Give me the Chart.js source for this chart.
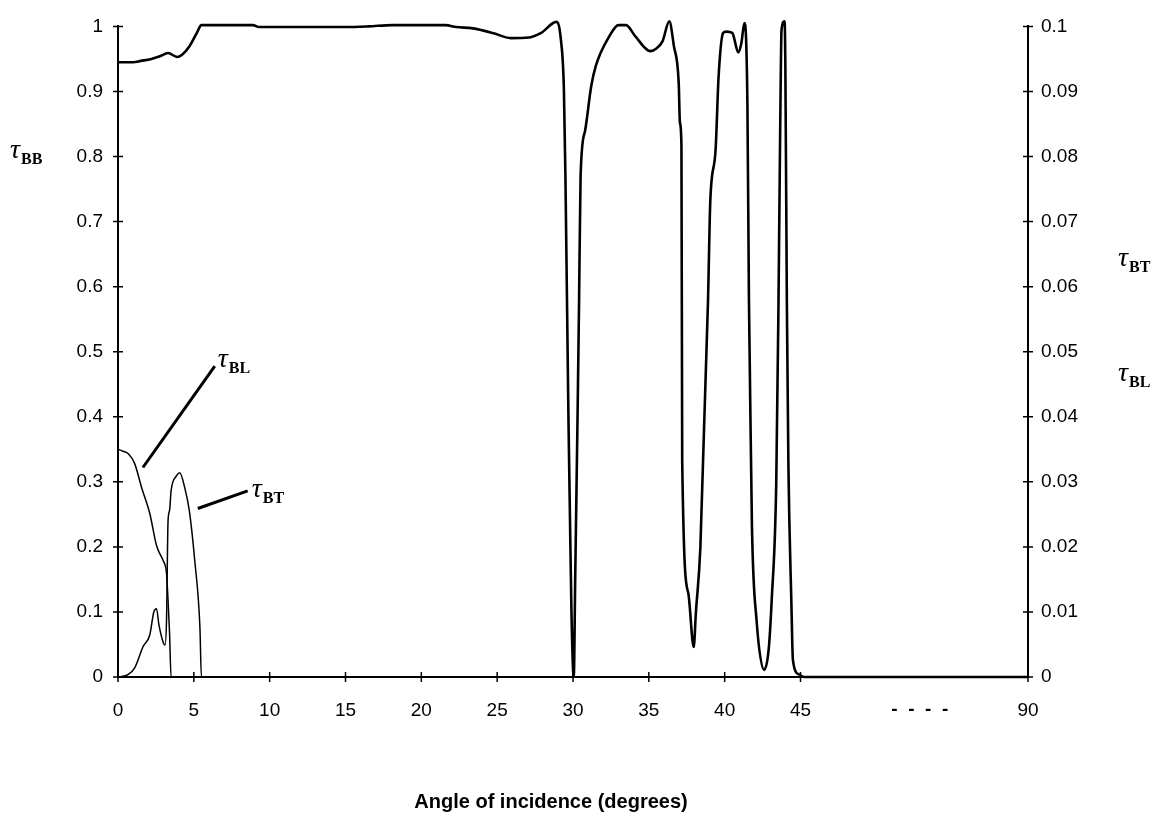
<!DOCTYPE html>
<html>
<head>
<meta charset="utf-8">
<script src="https://cdn.jsdelivr.net/npm/chart.js@4/dist/chart.umd.min.js"></script>
<style>
  body { margin: 0; background: #fff; }
  #wrap { width: 1172px; height: 816px; }
</style>
</head>
<body>
<div id="wrap"><canvas id="chart" width="1172" height="816"></canvas></div>
<script>
// tau_BB (left axis)
const bbAngle = [0, 1.0, 1.5, 2.2, 2.76, 3.3, 3.9, 4.3, 4.7, 5.2, 5.5, 8.9, 9.3, 15, 16.5, 18.1, 21.6, 22.3, 23.4, 24.7, 25.9, 27.1, 27.9, 28.9, 29.2, 29.4, 29.5, 29.7, 29.8, 29.9, 30.05, 30.15, 30.3, 30.4, 30.5, 30.8, 31.2, 31.5, 32.4, 33.0, 33.5, 34.1, 35.1, 35.5, 35.9, 36.35, 36.65, 36.97, 37.05, 37.15, 37.2, 37.6, 37.96, 38.1, 38.4, 38.9, 39.05, 39.4, 39.6, 39.9, 40.1, 40.5, 40.9, 41.1, 41.3, 41.5, 41.6, 41.65, 41.8, 42.1, 42.6, 42.9, 43.1, 43.4, 43.55, 43.66, 43.75, 43.95, 44.0, 44.1, 44.2, 44.4, 44.5, 44.9, 45.7, 90];
const bbValue = [0.945, 0.945, 0.947, 0.950, 0.954, 0.959, 0.953, 0.958, 0.969, 0.990, 1.002, 1.002, 0.999, 0.999, 1.0, 1.002, 1.002, 0.999, 0.997, 0.990, 0.982, 0.983, 0.990, 1.007, 0.98, 0.903, 0.771, 0.398, 0.245, 0.098, 0.0, 0.16, 0.40, 0.577, 0.77, 0.84, 0.908, 0.939, 0.985, 1.002, 1.002, 0.985, 0.962, 0.966, 0.977, 1.008, 0.97, 0.913, 0.852, 0.817, 0.332, 0.129, 0.046, 0.098, 0.2, 0.577, 0.73, 0.81, 0.923, 0.99, 0.992, 0.99, 0.96, 0.974, 1.005, 0.88, 0.58, 0.49, 0.23, 0.088, 0.011, 0.042, 0.118, 0.297, 0.577, 0.84, 0.995, 1.008, 0.944, 0.577, 0.33, 0.113, 0.026, 0.004, 0.0, 0.0];

// tau_BL (right axis)
const blAngle = [0, 0.33, 0.68, 1.1, 1.56, 2.1, 2.54, 2.98, 3.14, 3.2, 3.3, 3.4, 3.5, 90];
const blValue = [0.0350, 0.0347, 0.0343, 0.0328, 0.0291, 0.0251, 0.0202, 0.0179, 0.0169, 0.0159, 0.0118, 0.0067, 0, 0];

// tau_BT (right axis)
const btAngle = [0.15, 0.68, 1.1, 1.66, 2.1, 2.36, 2.54, 2.7, 3.0, 3.1, 3.2, 3.3, 3.4, 3.5, 3.85, 4.07, 4.4, 4.7, 5.06, 5.4, 5.5, 90];
const btValue = [0, 0.0004, 0.0014, 0.0047, 0.0065, 0.0100, 0.0105, 0.0080, 0.0052, 0.0049, 0.0088, 0.0240, 0.0256, 0.0286, 0.0309, 0.0314, 0.0291, 0.0256, 0.0179, 0.0077, 0, 0];

const xTickAngles = [0, 5, 10, 15, 20, 25, 30, 35, 40, 45, 90];
const xTickLabels = ['0', '5', '10', '15', '20', '25', '30', '35', '40', '45', '90'];
const leftTicks = [0, 0.1, 0.2, 0.3, 0.4, 0.5, 0.6, 0.7, 0.8, 0.9, 1];
const rightTicks = [0, 0.01, 0.02, 0.03, 0.04, 0.05, 0.06, 0.07, 0.08, 0.09, 0.1];

// the axis is broken after 45 degrees: 45..90 squeezed into a third
const toAxis = a => a <= 45 ? a : 45 + (a - 45) / 3;
const pts = (xs, ys) => xs.map((a, i) => ({ x: toAxis(a), y: ys[i] }));

const tickFont = { family: '"Liberation Sans", Arial, sans-serif', size: 19 };

function drawTau(ctx, x, y, sub) {
  ctx.font = 'italic 28px "Liberation Serif", serif';
  ctx.textAlign = 'left';
  ctx.textBaseline = 'alphabetic';
  ctx.fillText('τ', x, y);
  const w = ctx.measureText('τ').width;
  ctx.font = 'bold 16px "Liberation Serif", serif';
  ctx.fillText(sub, x + w + 1, y + 6);
}

const overlay = {
  id: 'overlay',
  afterDraw(chart) {
    const { ctx, chartArea: ca, scales } = chart;
    const { x, y, y1 } = scales;
    ctx.save();
    ctx.strokeStyle = '#000';
    ctx.fillStyle = '#000';
    ctx.lineWidth = 1.5;

    // tick marks crossing the axes
    ctx.beginPath();
    x.ticks.forEach(t => {
      const px = x.getPixelForValue(t.value);
      ctx.moveTo(px, ca.bottom - 5); ctx.lineTo(px, ca.bottom + 5);
    });
    y.ticks.forEach(t => {
      const py = y.getPixelForValue(t.value);
      ctx.moveTo(ca.left - 5, py); ctx.lineTo(ca.left + 5, py);
    });
    y1.ticks.forEach(t => {
      const py = y1.getPixelForValue(t.value);
      ctx.moveTo(ca.right - 5, py); ctx.lineTo(ca.right + 5, py);
    });
    ctx.stroke();

    // break marker on the angle axis
    ctx.font = 'bold 19px "Liberation Sans", Arial, sans-serif';
    ctx.textAlign = 'center';
    ctx.textBaseline = 'middle';
    ctx.fillText('-  -  -  -', x.getPixelForValue(toAxis(68.6)), ca.bottom + 33);

    // leader lines
    ctx.lineWidth = 3;
    ctx.beginPath();
    ctx.moveTo(x.getPixelForValue(1.64), y.getPixelForValue(0.322));
    ctx.lineTo(x.getPixelForValue(6.38), y.getPixelForValue(0.478));
    ctx.moveTo(x.getPixelForValue(5.26), y.getPixelForValue(0.259));
    ctx.lineTo(x.getPixelForValue(8.55), y.getPixelForValue(0.286));
    ctx.stroke();

    drawTau(ctx, x.getPixelForValue(6.58), y.getPixelForValue(0.476), 'BL');
    drawTau(ctx, x.getPixelForValue(8.82), y.getPixelForValue(0.276), 'BT');

    // axis names
    drawTau(ctx, 10, y.getPixelForValue(0.797), 'BB');
    drawTau(ctx, ca.right + 90, y1.getPixelForValue(0.0632), 'BT');
    drawTau(ctx, ca.right + 90, y1.getPixelForValue(0.0455), 'BL');

    ctx.font = 'bold 20px "Liberation Sans", Arial, sans-serif';
    ctx.textAlign = 'center';
    ctx.textBaseline = 'middle';
    ctx.fillText('Angle of incidence (degrees)', (ca.left + ca.right) / 2 - 22, 802);
    ctx.restore();
  }
};

const lineStyle = { borderColor: '#000', pointRadius: 0, cubicInterpolationMode: 'monotone', clip: 10 };

new Chart(document.getElementById('chart'), {
  type: 'line',
  data: {
    datasets: [
      { ...lineStyle, label: 'τBB', data: pts(bbAngle, bbValue), yAxisID: 'y', borderWidth: 2.6 },
      { ...lineStyle, label: 'τBL', data: pts(blAngle, blValue), yAxisID: 'y1', borderWidth: 1.5 },
      { ...lineStyle, label: 'τBT', data: pts(btAngle, btValue), yAxisID: 'y1', borderWidth: 1.5 }
    ]
  },
  options: {
    responsive: false,
    animation: false,
    events: [],
    layout: { padding: { top: 23, left: 0, right: 0, bottom: 0 } },
    plugins: { legend: { display: false }, tooltip: { enabled: false } },
    scales: {
      x: {
        type: 'linear',
        min: 0,
        max: toAxis(90),
        afterBuildTicks: s => { s.ticks = xTickAngles.map(a => ({ value: toAxis(a) })); },
        afterFit: s => { s.height = 139; },
        grid: { drawOnChartArea: false, drawTicks: false },
        border: { color: '#000', width: 2 },
        ticks: { color: '#000', font: tickFont, padding: 22, maxRotation: 0, autoSkip: false,
          callback: (v, i) => xTickLabels[i] }
      },
      y: {
        position: 'left',
        min: 0,
        max: 1,
        afterBuildTicks: s => { s.ticks = leftTicks.map(v => ({ value: v })); },
        afterFit: s => { s.width = 118; },
        grid: { drawOnChartArea: false, drawTicks: false },
        border: { color: '#000', width: 2 },
        ticks: { color: '#000', font: tickFont, padding: 15,
          callback: v => String(Math.round(v * 100) / 100) }
      },
      y1: {
        position: 'right',
        min: 0,
        max: 0.1,
        afterBuildTicks: s => { s.ticks = rightTicks.map(v => ({ value: v })); },
        afterFit: s => { s.width = 144; },
        grid: { drawOnChartArea: false, drawTicks: false },
        border: { color: '#000', width: 2 },
        ticks: { color: '#000', font: tickFont, padding: 13,
          callback: v => String(Math.round(v * 1000) / 1000) }
      }
    }
  },
  plugins: [overlay]
});
</script>
</body>
</html>
